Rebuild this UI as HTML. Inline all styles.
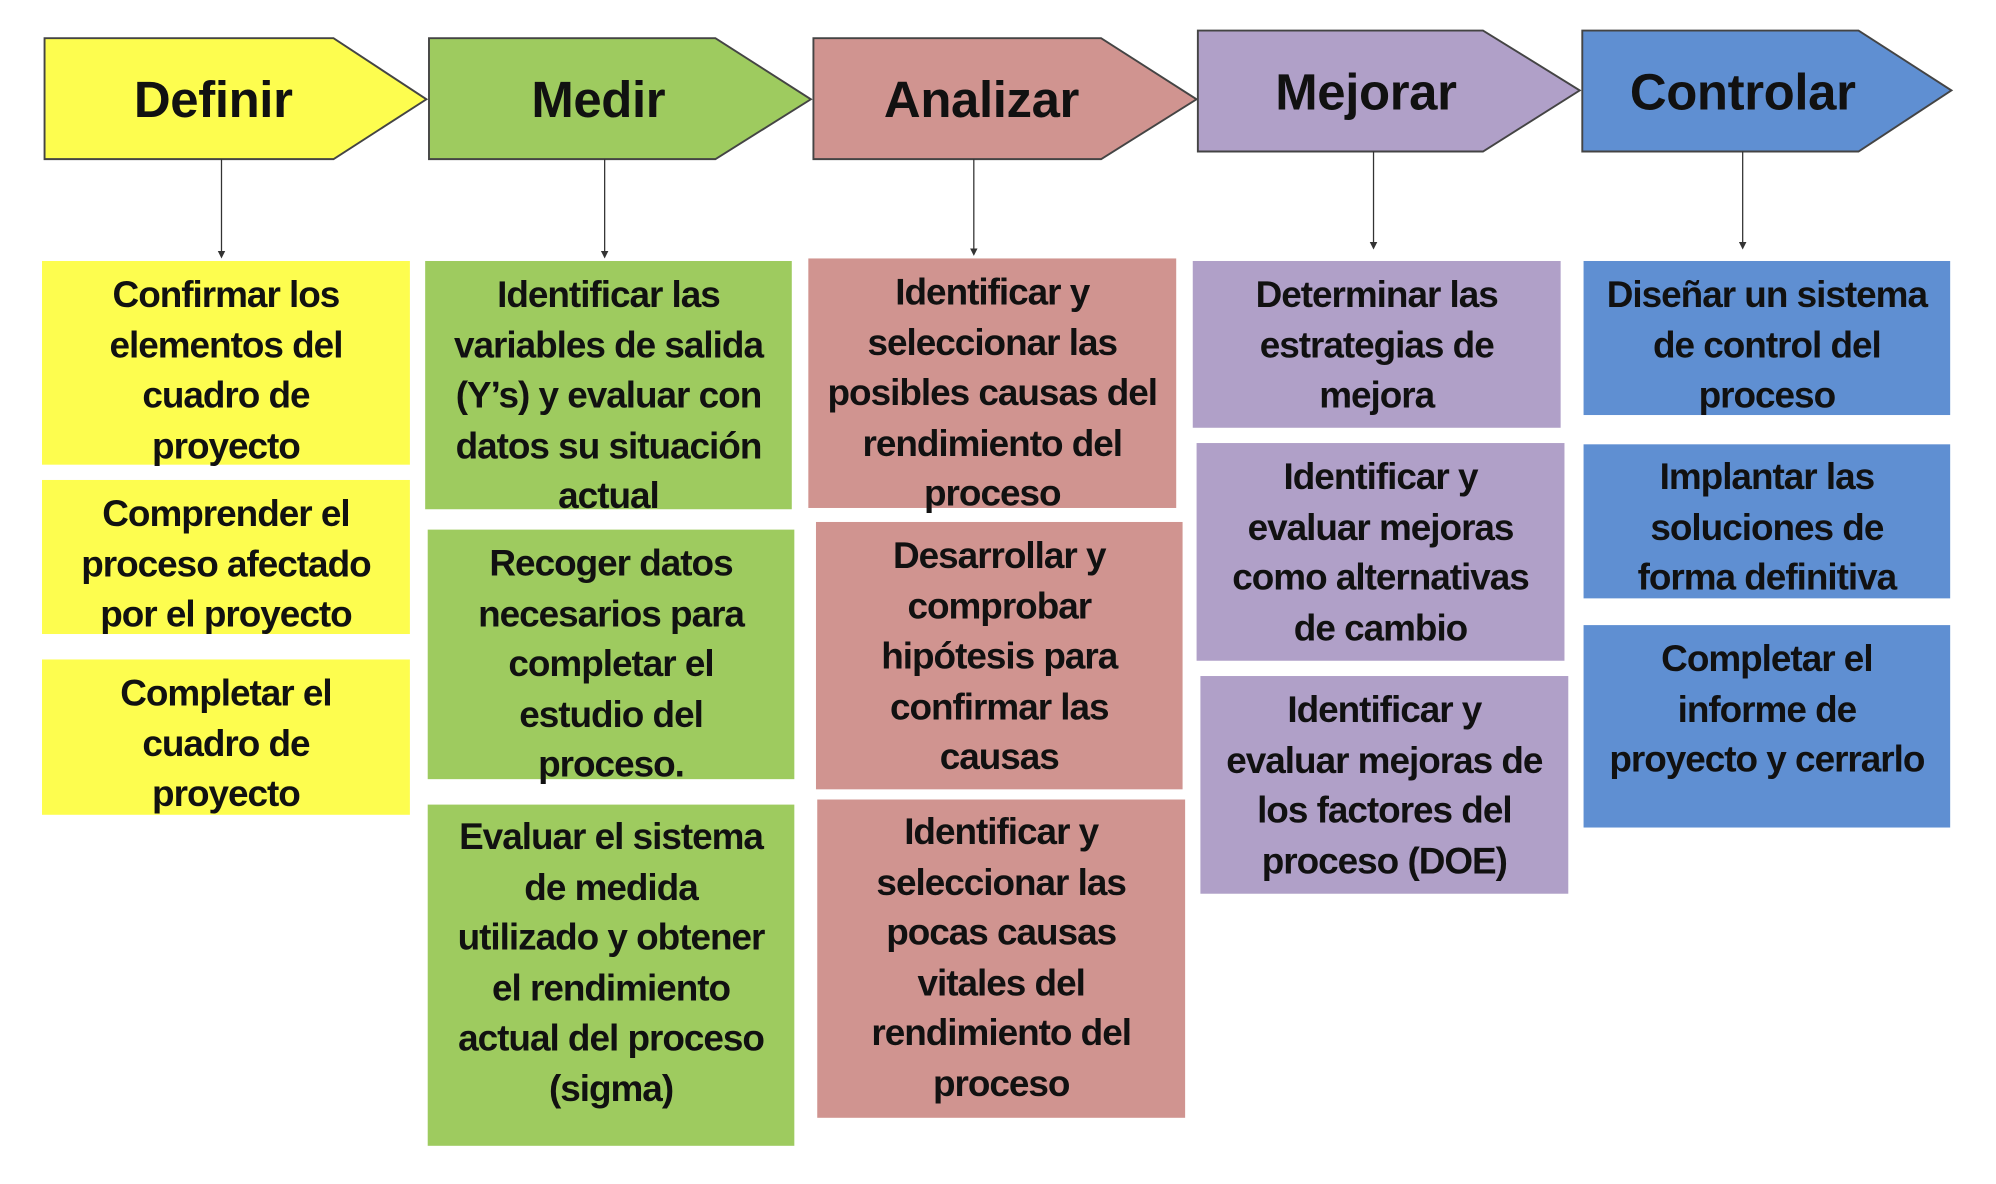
<!DOCTYPE html>
<html><head><meta charset="utf-8"><style>
html,body{margin:0;padding:0;background:#fff;}
#wrap{position:relative;width:1996px;height:1184px;overflow:hidden;}
#in{position:absolute;left:0;top:0;width:1568px;height:930px;transform:scale(1.27296,1.27312);transform-origin:0 0;}
svg{position:absolute;left:0;top:0;}
.t{position:absolute;text-align:center;font-family:"Liberation Sans",sans-serif;font-weight:bold;color:#111;font-size:29px;line-height:39.5px;letter-spacing:-0.8px;white-space:nowrap;}
.h{position:absolute;text-align:center;font-family:"Liberation Sans",sans-serif;font-weight:bold;color:#111;font-size:40px;line-height:40px;letter-spacing:-0.3px;}
</style></head><body><div id="wrap"><div id="in">
<svg width="1568" height="930" viewBox="0 0 1568 930">
<defs><marker id="a" markerWidth="6" markerHeight="6" refX="3" refY="3" orient="auto"><path d="M0,0 L6,3 L0,6z" fill="#333"/></marker></defs>
<g stroke="#444" stroke-width="1.5">
<polygon points="35,30 262,30 335,78 262,125 35,125" fill="#fdfd4f"/>
<polygon points="337,30 562,30 637,78 562,125 337,125" fill="#9ecb5f"/>
<polygon points="639,30 865,30 940,78 865,125 639,125" fill="#d09490"/>
<polygon points="941,24 1165,24 1241,71 1165,119 941,119" fill="#b0a0c8"/>
<polygon points="1243,24 1460,24 1533,71 1460,119 1243,119" fill="#5f8fd2"/>
</g>
<g stroke="#333" stroke-width="1" marker-end="url(#a)">
<line x1="174" y1="125" x2="174" y2="200"/>
<line x1="475" y1="125" x2="475" y2="200"/>
<line x1="765" y1="125" x2="765" y2="198"/>
<line x1="1079" y1="119" x2="1079" y2="193"/>
<line x1="1369" y1="119" x2="1369" y2="193"/>
</g>
<g fill="#fdfd4f"><rect x="33" y="205" width="289" height="160"/><rect x="33" y="377" width="289" height="121"/><rect x="33" y="518" width="289" height="122"/></g>
<g fill="#9ecb5f"><rect x="334" y="205" width="288" height="195"/><rect x="336" y="416" width="288" height="196"/><rect x="336" y="632" width="288" height="268"/></g>
<g fill="#d09490"><rect x="635" y="203" width="289" height="196"/><rect x="641" y="410" width="288" height="210"/><rect x="642" y="628" width="289" height="250"/></g>
<g fill="#b0a0c8"><rect x="937" y="205" width="289" height="131"/><rect x="940" y="348" width="289" height="171"/><rect x="943" y="531" width="289" height="171"/></g>
<g fill="#5f8fd2"><rect x="1244" y="205" width="288" height="121"/><rect x="1244" y="349" width="288" height="121"/><rect x="1244" y="491" width="288" height="159"/></g>
</svg>
<div class="h" style="left:35px;width:265px;top:59px">Definir</div>
<div class="h" style="left:337px;width:266px;top:59px">Medir</div>
<div class="h" style="left:639px;width:264px;top:59px">Analizar</div>
<div class="h" style="left:941px;width:264px;top:53px">Mejorar</div>
<div class="h" style="left:1243px;width:252px;top:53px">Controlar</div>

<div class="t" style="left:33px;width:289px;top:213px">Confirmar los<br>elementos del<br>cuadro de<br>proyecto</div>
<div class="t" style="left:33px;width:289px;top:385px">Comprender el<br>proceso afectado<br>por el proyecto</div>
<div class="t" style="left:33px;width:289px;top:526px">Completar el<br>cuadro de<br>proyecto</div>

<div class="t" style="left:334px;width:288px;top:213px">Identificar las<br>variables de salida<br>(Y’s) y evaluar con<br>datos su situación<br>actual</div>
<div class="t" style="left:336px;width:288px;top:424px">Recoger datos<br>necesarios para<br>completar el<br>estudio del<br>proceso.</div>
<div class="t" style="left:336px;width:288px;top:639px">Evaluar el sistema<br>de medida<br>utilizado y obtener<br>el rendimiento<br>actual del proceso<br>(sigma)</div>

<div class="t" style="left:635px;width:289px;top:211px">Identificar y<br>seleccionar las<br>posibles causas del<br>rendimiento del<br>proceso</div>
<div class="t" style="left:641px;width:288px;top:418px">Desarrollar y<br>comprobar<br>hipótesis para<br>confirmar las<br>causas</div>
<div class="t" style="left:642px;width:289px;top:635px">Identificar y<br>seleccionar las<br>pocas causas<br>vitales del<br>rendimiento del<br>proceso</div>

<div class="t" style="left:937px;width:289px;top:213px">Determinar las<br>estrategias de<br>mejora</div>
<div class="t" style="left:940px;width:289px;top:356px">Identificar y<br>evaluar mejoras<br>como alternativas<br>de cambio</div>
<div class="t" style="left:943px;width:289px;top:539px">Identificar y<br>evaluar mejoras de<br>los factores del<br>proceso (DOE)</div>

<div class="t" style="left:1244px;width:288px;top:213px">Diseñar un sistema<br>de control del<br>proceso</div>
<div class="t" style="left:1244px;width:288px;top:356px">Implantar las<br>soluciones de<br>forma definitiva</div>
<div class="t" style="left:1244px;width:288px;top:499px">Completar el<br>informe de<br>proyecto y cerrarlo</div>
</div></div></body></html>
